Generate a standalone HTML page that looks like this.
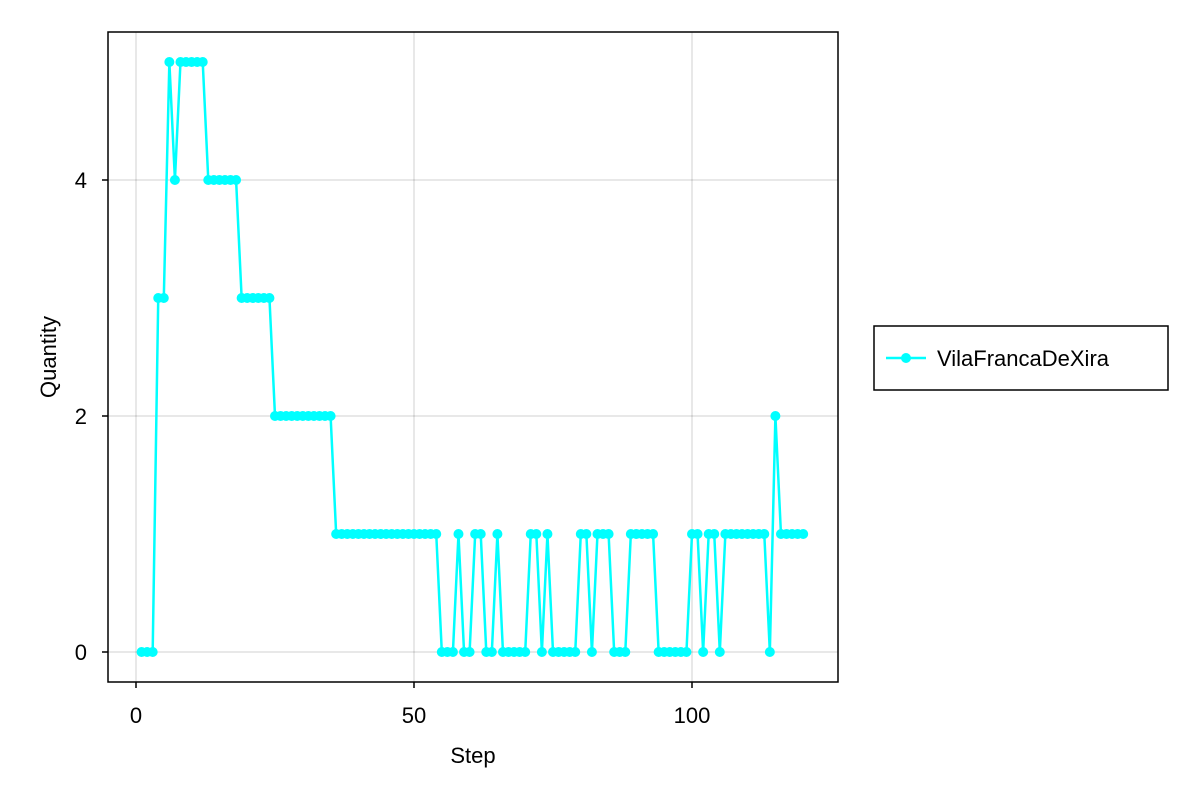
<!DOCTYPE html>
<html><head><meta charset="utf-8"><style>
body{margin:0;background:#fff;}
svg text{font-family:"Liberation Sans",sans-serif;fill:#000;}
</style></head><body>
<svg id="chart" width="1200" height="800" xmlns="http://www.w3.org/2000/svg">
<rect width="1200" height="800" fill="#fff"/>
<g id="grid"></g>
<g id="series"></g>
<rect x="108" y="32" width="730" height="650" fill="none" stroke="#000" stroke-width="1.5"/>
<g id="ticks"></g>
<text x="473" y="763" font-size="22" text-anchor="middle">Step</text>
<text transform="translate(56,357) rotate(-90)" font-size="22" text-anchor="middle">Quantity</text>
<g>
<rect x="874" y="326" width="294" height="64" fill="#fff" stroke="#000" stroke-width="1.5"/>
<line x1="886" y1="358" x2="926" y2="358" stroke="#00ffff" stroke-width="2.5"/>
<circle cx="906" cy="358" r="5" fill="#00ffff"/>
<text x="937" y="366" font-size="22">VilaFrancaDeXira</text>
</g>
</svg>
<script>
const xTicks=[0,50,100];
const yTicks=[0,2,4];
const values=[0,0,0,3,3,5,4,5,5,5,5,5,4,4,4,4,4,4,3,3,3,3,3,3,
2,2,2,2,2,2,2,2,2,2,2,
1,1,1,1,1,1,1,1,1,1,1,1,1,1,1,1,1,1,1,
0,0,0,1,0,0,1,1,0,0,1,0,0,0,0,0,1,1,0,1,0,0,0,0,0,1,1,0,1,1,1,0,0,0,
1,1,1,1,1,0,0,0,0,0,0,1,1,0,1,1,0,1,1,1,1,1,1,1,1,0,2,1,1,1,1,1];
const steps=values.map((v,i)=>i+1);
const NS="http://www.w3.org/2000/svg";
const xs=s=>136+(s/50)*278;
const ys=v=>652-v*118;
const grid=document.getElementById('grid'),ticks=document.getElementById('ticks'),ser=document.getElementById('series');
function mk(tag,attrs,parent){const e=document.createElementNS(NS,tag);for(const k in attrs)e.setAttribute(k,attrs[k]);parent.appendChild(e);return e;}
xTicks.forEach(t=>{
const g=mk('line',{x1:xs(t),x2:xs(t),y1:32,y2:682,stroke:'#000','stroke-opacity':0.12,'stroke-width':1.5},grid);


mk('line',{x1:xs(t),x2:xs(t),y1:682,y2:688,stroke:'#000','stroke-width':1.5},ticks);
const tx=mk('text',{x:xs(t),y:723,'font-size':22,'text-anchor':'middle'},ticks);tx.textContent=t;


});
yTicks.forEach(t=>{
const g=mk('line',{x1:108,x2:838,y1:ys(t),y2:ys(t),stroke:'#000','stroke-opacity':0.12,'stroke-width':1.5},grid);


mk('line',{x1:102,x2:108,y1:ys(t),y2:ys(t),stroke:'#000','stroke-width':1.5},ticks);
const tx=mk('text',{x:87,y:ys(t)+8,'font-size':22,'text-anchor':'end'},ticks);tx.textContent=t;


});
const pl=mk('polyline',{points:values.map((v,i)=>xs(steps[i])+','+ys(v)).join(' '),fill:'none',stroke:'#00ffff','stroke-width':2.5},ser);


values.forEach((v,i)=>{
const c=mk('circle',{cx:xs(steps[i]),cy:ys(v),r:5,fill:'#00ffff'},ser);


});
</script>
</body></html>
